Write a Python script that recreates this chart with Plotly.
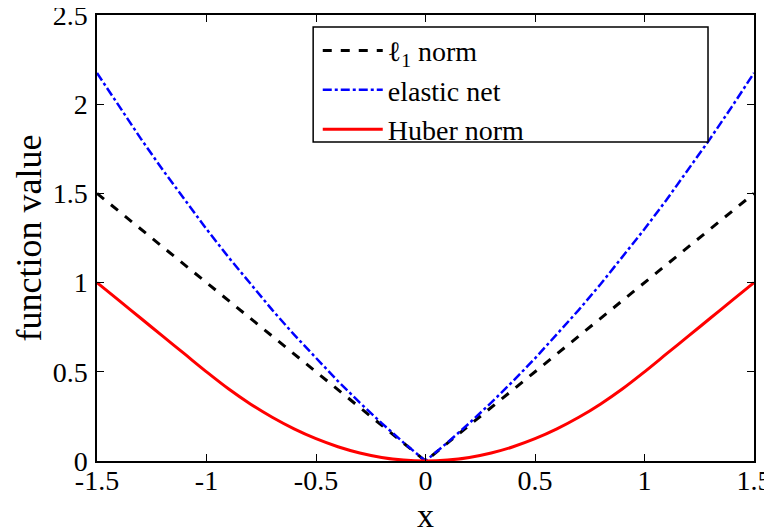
import plotly.graph_objects as go

x_vals = [-1.5, -1.4, -1.3, -1.2, -1.1, -1.0, -0.9, -0.8, -0.7, -0.6, -0.5, -0.4, -0.3, -0.2, -0.1, 0.0,
          0.1, 0.2, 0.3, 0.4, 0.5, 0.6, 0.7, 0.8, 0.9, 1.0, 1.1, 1.2, 1.3, 1.4, 1.5]
l1_norm = [1.5, 1.4, 1.3, 1.2, 1.1, 1.0, 0.9, 0.8, 0.7, 0.6, 0.5, 0.4, 0.3, 0.2, 0.1, 0.0,
           0.1, 0.2, 0.3, 0.4, 0.5, 0.6, 0.7, 0.8, 0.9, 1.0, 1.1, 1.2, 1.3, 1.4, 1.5]
elastic_net = [2.175, 1.988, 1.807, 1.632, 1.463, 1.3, 1.143, 0.992, 0.847, 0.708, 0.575, 0.448, 0.327, 0.212, 0.103, 0.0,
               0.103, 0.212, 0.327, 0.448, 0.575, 0.708, 0.847, 0.992, 1.143, 1.3, 1.463, 1.632, 1.807, 1.988, 2.175]
huber_norm = [1.0, 0.9, 0.8, 0.7, 0.6, 0.5, 0.405, 0.32, 0.245, 0.18, 0.125, 0.08, 0.045, 0.02, 0.005, 0.0,
              0.005, 0.02, 0.045, 0.08, 0.125, 0.18, 0.245, 0.32, 0.405, 0.5, 0.6, 0.7, 0.8, 0.9, 1.0]

x_ticks = [-1.5, -1.0, -0.5, 0.0, 0.5, 1.0, 1.5]
x_tick_labels = ["-1.5", "-1", "-0.5", "0", "0.5", "1", "1.5"]
y_ticks = [0, 0.5, 1.0, 1.5, 2.0, 2.5]
y_tick_labels = ["0", "0.5", "1", "1.5", "2", "2.5"]
x_title = "x"
y_title = "function value"

FONT = "Liberation Serif"

fig = go.Figure()
fig.add_trace(go.Scatter(x=x_vals, y=l1_norm, mode="lines", name="ℓ<sub>1</sub> norm",
                         line=dict(color="black", width=3, dash="dash")))
fig.add_trace(go.Scatter(x=x_vals, y=elastic_net, mode="lines", name="elastic net",
                         line=dict(color="#0000ff", width=2.5, dash="dashdot")))
fig.add_trace(go.Scatter(x=x_vals, y=huber_norm, mode="lines", name="Huber norm",
                         line=dict(color="#ff0000", width=3, shape="spline")))

axis_common = dict(showline=True, linecolor="black", linewidth=1.5, mirror="ticks",
                   ticks="inside", ticklen=7, tickcolor="black", tickwidth=1,
                   showgrid=False, zeroline=False, automargin=False,
                   ticklabeloverflow="allow",
                   tickfont=dict(family=FONT, size=28, color="black"))

fig.update_xaxes(range=[-1.5, 1.5], tickvals=x_ticks, ticktext=x_tick_labels,
                 ticklabelstandoff=-6, **axis_common)
fig.update_yaxes(range=[0, 2.5], tickvals=y_ticks, ticktext=y_tick_labels,
                 ticklabelstandoff=2,
                 title=dict(text=y_title, font=dict(family=FONT, size=36, color="black"), standoff=0),
                 **axis_common)

fig.add_annotation(text=x_title, xref="paper", yref="paper", x=0.5, y=0, yshift=-54,
                   xanchor="center", yanchor="middle", showarrow=False,
                   font=dict(family=FONT, size=34, color="black"))

fig.add_shape(type="rect", xref="paper", yref="paper", x0=0.329, x1=0.930, y0=0.715, y1=0.973,
              line=dict(color="black", width=1.5), fillcolor="white", layer="above")

# page body has an 8px margin, so the figure is sized to end at the window edge
fig.update_layout(
    width=764, height=519,
    margin=dict(l=89, r=18, t=7, b=66, autoexpand=False),
    paper_bgcolor="white", plot_bgcolor="white",
    font=dict(family=FONT, color="black"),
    showlegend=True,
    legend=dict(x=0.336, y=0.976, xanchor="left", yanchor="top",
                bgcolor="rgba(0,0,0,0)", borderwidth=0,
                font=dict(family=FONT, size=28, color="black"),
                tracegroupgap=0, itemwidth=60),
)

fig.write_html("out.html")
